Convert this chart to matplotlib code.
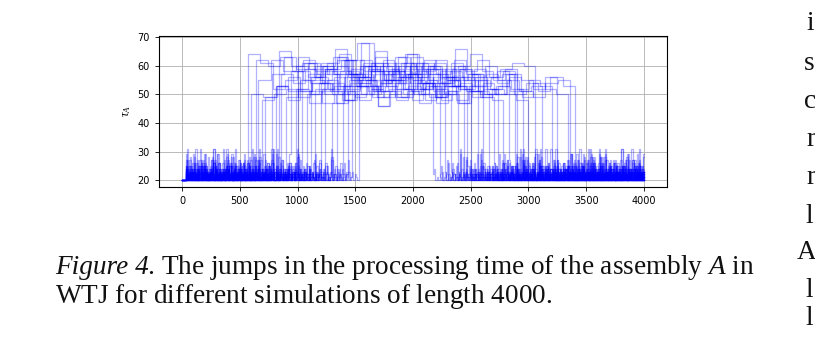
import matplotlib.pyplot as plt
from matplotlib.patches import Rectangle
import numpy as np

plt.rcParams['mathtext.fontset'] = 'custom'
plt.rcParams['mathtext.rm'] = 'Liberation Serif'
plt.rcParams['mathtext.it'] = 'Liberation Serif:italic'

# time of the jump up / jump back down for each simulation
t_up = [570, 600, 640, 660, 690, 780, 810, 840, 900, 940, 990, 1040, 1080,
        1120, 1200, 1240, 1300, 1340, 1390, 1440, 1470, 1530, 720, 1000, 1150, 860]
t_down = [2280, 2170, 2950, 2500, 3000, 2440, 3360, 2610, 2700, 3250, 2330, 2830, 3120,
          2560, 3400, 2390, 2780, 3060, 2660, 3340, 2900, 2740, 3200, 2230, 2470, 2880]

# processing time levels while in the high regime
high_levels = [
    [64, 61, 52, 55, 58, 54, 60, 57, 53, 56, 59, 55, 52, 57, 54, 51],
    [50, 49, 53, 48, 51, 55, 50, 47, 52, 54, 49, 51, 48, 53, 50],
    [62, 60, 63, 58, 61, 57, 59, 62, 56, 60, 58, 55, 61, 57, 59, 54, 58, 56, 53, 57, 55, 52],
    [55, 62, 58, 60, 56, 59, 63, 57, 54, 58, 61, 55, 57, 60, 53, 56, 52],
    [48, 50, 52, 49, 51, 47, 53, 50, 48, 52, 55, 49, 51, 47, 50, 53, 48, 51, 49, 52, 50, 48],
    [57, 63, 59, 61, 55, 58, 62, 56, 60, 54, 59, 57, 61, 55, 58, 53],
    [53, 56, 51, 54, 58, 52, 55, 50, 57, 53, 56, 51, 54, 49, 55, 52, 57, 50, 53, 56, 51, 49, 54, 55],
    [65, 60, 62, 58, 61, 64, 57, 60, 63, 59, 56, 61, 58, 62, 55, 59, 57],
    [49, 52, 47, 51, 54, 48, 50, 53, 46, 51, 49, 55, 48, 52, 50, 47, 51, 49],
    [58, 55, 60, 57, 53, 59, 56, 61, 54, 58, 55, 62, 57, 53, 59, 56, 60, 54, 57, 55, 52, 56],
    [52, 57, 54, 50, 56, 53, 59, 51, 55, 52, 58, 54, 50],
    [61, 56, 59, 63, 57, 60, 55, 62, 58, 64, 56, 60, 57, 61, 55, 59, 56, 58],
    [50, 54, 51, 48, 53, 55, 49, 52, 56, 50, 53, 47, 51, 54, 49, 52, 50, 55, 51, 53],
    [56, 60, 66, 58, 55, 61, 57, 63, 59, 54, 60, 56, 62, 57],
    [54, 51, 57, 53, 50, 55, 58, 52, 54, 49, 56, 53, 51, 55, 52, 57, 50, 54, 51, 56, 53],
    [59, 62, 57, 68, 60, 58, 63, 56, 61, 59, 55],
    [47, 51, 49, 53, 46, 50, 52, 48, 54, 49, 51, 47, 53, 50, 48],
    [60, 56, 62, 58, 55, 61, 64, 57, 59, 54, 60, 58, 62, 56, 59, 61, 60],
    [53, 57, 55, 51, 58, 54, 60, 52, 56, 53, 66, 55, 51],
    [51, 55, 52, 49, 54, 57, 50, 53, 48, 56, 52, 55, 50, 53, 51, 49, 54, 52, 50],
    [62, 58, 65, 60, 57, 63, 59, 61, 56, 60, 64, 58, 55, 59],
    [56, 53, 58, 55, 60, 52, 57, 54, 59, 53, 56, 52],
    [49, 53, 51, 55, 50, 52, 56, 48, 53, 51, 54, 57, 50, 52, 55, 49, 53, 56, 51, 54, 50, 57, 52, 55, 53],
    [63, 59, 61, 57, 62, 68, 58, 60, 56, 61, 59, 57],
    [52, 55, 50, 54, 57, 51, 53, 49, 56, 52, 54, 50, 53],
    [57, 54, 59, 56, 52, 58, 55, 61, 53, 57, 60, 54, 56, 52, 59, 55, 57, 53, 56, 58],
]

# processing time levels while in the low regime
low_levels = [
    [20, 22, 21, 24, 20, 21, 23, 20, 26, 22, 20, 21, 23, 20, 22, 25, 20, 21, 22, 20,
     24, 20, 21, 22, 27, 20, 21, 23, 20, 22, 21, 20, 24, 22, 20, 21, 29, 20, 22, 21,
     20, 23, 21, 20, 25, 22, 20, 21],
    [21, 20, 23, 20, 22, 24, 20, 21, 20, 22, 25, 20, 21, 23, 20, 22, 20, 21, 26, 20,
     22, 21, 20, 23, 20, 21, 28, 20, 22, 21, 20, 24, 21, 20, 22, 20, 23, 21, 20, 22,
     25, 20, 21, 20, 22, 23, 20, 21, 24, 20, 21],
    [20, 21, 22, 20, 24, 21, 20, 22, 20, 23, 21, 20, 25, 20, 22, 21, 20, 23, 20, 21,
     22, 27, 20, 21, 20, 24, 22, 20, 21, 20, 23, 31, 20, 21, 22, 20, 24, 21, 20, 22,
     20, 21, 26, 20, 22, 20, 23],
]
low_step = [10, 12, 14, 11, 13]

x_ticks = [0, 500, 1000, 1500, 2000, 2500, 3000, 3500, 4000]
y_ticks = [20, 30, 40, 50, 60, 70]
T_END = 4000


def build_trace(i):
    low = low_levels[i % 3]
    dt = low_step[i % 5]
    k = (i * 7) % len(low)
    xs, ys = [0], [20]
    t = 30
    while t < t_up[i]:
        xs.append(t)
        ys.append(low[k % len(low)])
        k += 1
        t += dt
    hi = high_levels[i]
    edges = np.linspace(t_up[i], t_down[i], len(hi) + 1)
    xs += list(edges[:-1])
    ys += hi
    t = t_down[i]
    while t < T_END:
        xs.append(t)
        ys.append(low[k % len(low)])
        k += 1
        t += dt
    xs.append(T_END)
    ys.append(ys[-1])
    return xs, ys


fig = plt.figure(figsize=(8.15, 3.41), dpi=100)
ax = fig.add_axes([0.1951, 0.4516, 0.6233, 0.4428])

for i in range(len(t_up)):
    xs, ys = build_trace(i)
    ax.step(xs, ys, where='post', color='blue', alpha=0.3, linewidth=0.9)

ax.set_xticks(x_ticks)
ax.set_yticks(y_ticks)
ax.tick_params(labelsize=7, length=3, width=0.6)
ax.grid(True, color='#b0b0b0', linewidth=0.6)
ax.set_axisbelow(True)
for s in ax.spines.values():
    s.set_linewidth(0.8)
ax.set_ylabel(r'$\tau_A$', fontsize=9, labelpad=3)
ax.set_xlabel(r'$t$', fontsize=8, labelpad=2)

# the figure was cropped just under the top of the x label
fig.add_artist(Rectangle((0, 0), 1, 1 - 209 / 341, transform=fig.transFigure,
                         facecolor='white', edgecolor='none', zorder=5))

cap = dict(fontsize=19.6, family='Liberation Serif', color='#111111', zorder=6)
fig.canvas.draw()
r = fig.canvas.get_renderer()
lead = fig.text(55 / 815, 1 - 274 / 341, 'Figure 4.', style='italic',
                ha='left', va='baseline', **cap)
w = lead.get_window_extent(r).width
fig.text((55 + w + 5) / 815, 1 - 274 / 341,
         r'The jumps in the processing time of the assembly $A$ in',
         ha='left', va='baseline', **cap)
fig.text(55 / 815, 1 - 303 / 341,
         r'WTJ for different simulations of length $4000$.',
         ha='left', va='baseline', **cap)

# text from the neighbouring column, cut by the page crop
side = ['i', 's', 'c', 'r', 'r', 'l', 'A', 'l', 'l']
side_y = [30, 70, 108, 146, 184, 223, 259, 297, 325]
side_x = [806, 804, 804, 806, 806, 806, 797, 806, 806]
for ch, x, y in zip(side, side_x, side_y):
    fig.text(x / 815, 1 - y / 341, ch, ha='left', va='baseline', **cap)

fig.savefig('out.png', dpi=100)
